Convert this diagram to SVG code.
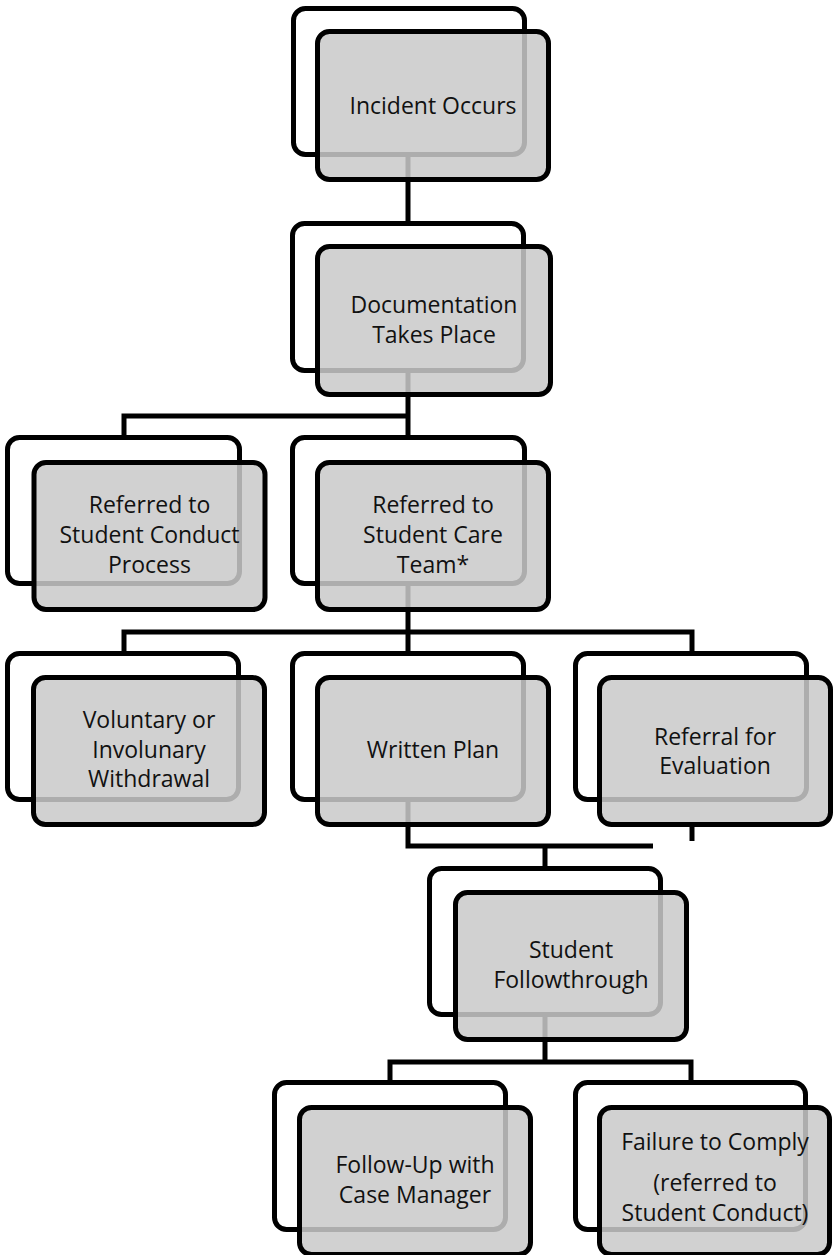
<svg xmlns="http://www.w3.org/2000/svg" width="833" height="1255" viewBox="0 0 833 1255">
<style>
.bg{fill:#fff}
.back{fill:#fff;stroke:#000;stroke-width:5}
.front{fill:#c9c9c9;fill-opacity:0.86;stroke:#000;stroke-width:5}
.conn{fill:none;stroke:#000;stroke-width:5;stroke-linejoin:miter;stroke-linecap:butt}
text{font-family:"Open Sans","Noto Sans","Liberation Sans",sans-serif;font-size:23px;fill:#111;text-anchor:middle}
</style>
<rect class="bg" x="0" y="0" width="833" height="1255"/>
<g id="connectors">
<path class="conn" d="M408 153 V224"/>
<path class="conn" d="M408 370 V438"/>
<path class="conn" d="M124 438 V416 H408"/>
<path class="conn" d="M408 582 V654"/>
<path class="conn" d="M124 654 V632 H692 V654"/>
<path class="conn" d="M408 799 V846 H653"/>
<path class="conn" d="M545 846 V869"/>
<path class="conn" d="M692 826 V841"/>
<path class="conn" d="M545 1014 V1062"/>
<path class="conn" d="M390 1083 V1062 H691 V1083"/>
</g>
<g id="n1">
<rect class="back" x="293.5" y="8.5" width="231" height="146" rx="12"/>
<rect class="front" x="317.5" y="31.5" width="231" height="148" rx="12"/>
<text x="433" y="114">Incident Occurs</text>
</g>
<g id="n2">
<rect class="back" x="292.5" y="223.5" width="231" height="147" rx="12"/>
<rect class="front" x="317.5" y="246.5" width="233" height="148" rx="12"/>
<text x="434" y="313">Documentation</text>
<text x="434" y="343">Takes Place</text>
</g>
<g id="n3a">
<rect class="back" x="7.5" y="437.5" width="232" height="146" rx="12"/>
<rect class="front" x="34" y="462.5" width="231" height="147" rx="12"/>
<text x="149.5" y="513">Referred to</text>
<text x="149.5" y="543">Student Conduct</text>
<text x="149.5" y="573">Process</text>
</g>
<g id="n3b">
<rect class="back" x="292.5" y="437.5" width="232" height="146" rx="12"/>
<rect class="front" x="317.5" y="462.5" width="231" height="147" rx="12"/>
<text x="433" y="513">Referred to</text>
<text x="433" y="543">Student Care</text>
<text x="433" y="573">Team*</text>
</g>
<g id="n4a">
<rect class="back" x="7.5" y="653.5" width="231" height="146" rx="12"/>
<rect class="front" x="33.5" y="677.5" width="231" height="147" rx="12"/>
<text x="149" y="728">Voluntary or</text>
<text x="149" y="758">Involunary</text>
<text x="149" y="787">Withdrawal</text>
</g>
<g id="n4b">
<rect class="back" x="292.5" y="653.5" width="231" height="146" rx="12"/>
<rect class="front" x="317.5" y="677.5" width="231" height="147" rx="12"/>
<text x="433" y="758">Written Plan</text>
</g>
<g id="n4c">
<rect class="back" x="575.5" y="653.5" width="231" height="146" rx="12"/>
<rect class="front" x="599.5" y="677.5" width="231" height="147" rx="12"/>
<text x="715" y="745">Referral for</text>
<text x="715" y="774">Evaluation</text>
</g>
<g id="n5">
<rect class="back" x="429.5" y="868.5" width="231" height="146" rx="12"/>
<rect class="front" x="455.5" y="892.5" width="231" height="147" rx="12"/>
<text x="571" y="958">Student</text>
<text x="571" y="988">Followthrough</text>
</g>
<g id="n6a">
<rect class="back" x="274.5" y="1082.5" width="231" height="147" rx="12"/>
<rect class="front" x="299.5" y="1107.5" width="231" height="147" rx="12"/>
<text x="415" y="1173">Follow-Up with</text>
<text x="415" y="1203">Case Manager</text>
</g>
<g id="n6b">
<rect class="back" x="575.5" y="1082.5" width="230" height="147" rx="12"/>
<rect class="front" x="599.5" y="1107.5" width="230" height="147" rx="12"/>
<text x="715" y="1150">Failure to Comply</text>
<text x="715" y="1191">(referred to</text>
<text x="715" y="1221">Student Conduct)</text>
</g>
</svg>
